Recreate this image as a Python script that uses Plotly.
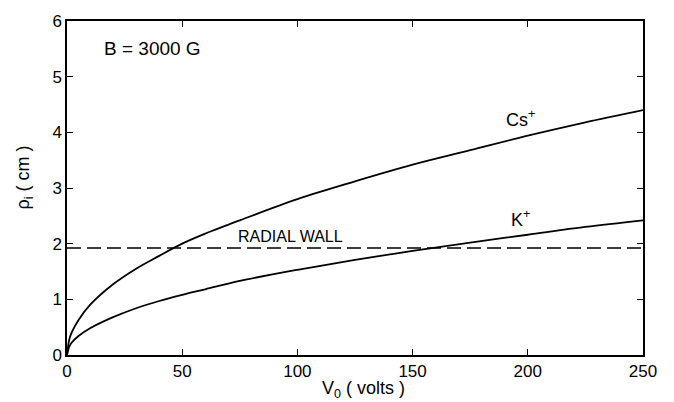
import plotly.graph_objects as go

V = [0, 1, 2, 5, 10, 20, 30, 40, 50, 60, 75, 100, 125, 150, 175, 200, 225, 250]
rho_cs = [0, 0.28, 0.40, 0.63, 0.90, 1.27, 1.55, 1.78, 2.00, 2.18, 2.42, 2.80, 3.12, 3.42, 3.68, 3.94, 4.18, 4.40]
rho_k = [0, 0.15, 0.22, 0.34, 0.48, 0.68, 0.84, 0.97, 1.08, 1.18, 1.33, 1.53, 1.71, 1.87, 2.02, 2.16, 2.30, 2.42]
wall_x = [0, 250]
wall_y = [1.92, 1.92]
xticks = [0, 50, 100, 150, 200, 250]
yticks = [0, 1, 2, 3, 4, 5, 6]

FONT = "Liberation Sans"

fig = go.Figure()
fig.add_trace(go.Scatter(x=V, y=rho_cs, mode="lines", line=dict(color="black", width=1.8, shape="spline"), showlegend=False))
fig.add_trace(go.Scatter(x=V, y=rho_k, mode="lines", line=dict(color="black", width=1.8, shape="spline"), showlegend=False))
fig.add_trace(go.Scatter(x=wall_x, y=wall_y, mode="lines", line=dict(color="black", width=1.5, dash="14px,6px"), showlegend=False))

ann = [
    dict(x=37, y=5.5, text="B = 3000 G", size=19),
    dict(x=197, y=4.25, text="Cs<sup>+</sup>", size=18),
    dict(x=197, y=2.45, text="K<sup>+</sup>", size=18),
    dict(x=97, y=2.12, text="RADIAL WALL", size=16),
]
for a in ann:
    fig.add_annotation(x=a["x"], y=a["y"], text=a["text"], showarrow=False,
                       font=dict(family=FONT, size=a["size"], color="black"))

# axis titles placed as paper annotations
fig.add_annotation(xref="paper", yref="paper", x=0.514, y=-0.103, xanchor="center", yanchor="middle",
                   text="V<sub>0</sub> ( volts )",
                   showarrow=False, font=dict(family=FONT, size=18, color="black"))
fig.add_annotation(xref="paper", yref="paper", x=-0.073, y=0.531, xanchor="center", yanchor="middle",
                   text="ρ<sub>i</sub> ( cm )", textangle=-90,
                   showarrow=False, font=dict(family=FONT, size=18, color="black"))

axis_common = dict(showline=True, linecolor="black", linewidth=1.5, mirror="ticks",
                   ticks="inside", ticklen=6, tickcolor="black", tickwidth=1.3,
                   showgrid=False, zeroline=False,
                   tickfont=dict(family=FONT, size=17, color="black"))

fig.update_xaxes(range=[0, 250], tickvals=xticks, ticktext=[str(t) for t in xticks], **axis_common)
fig.update_yaxes(range=[0, 6], tickvals=yticks, ticktext=[str(t) for t in yticks], **axis_common)

fig.update_layout(width=674, height=402, margin=dict(l=67, r=31, t=16, b=47),
                  paper_bgcolor="white", plot_bgcolor="white")

fig.write_html("out.html")
